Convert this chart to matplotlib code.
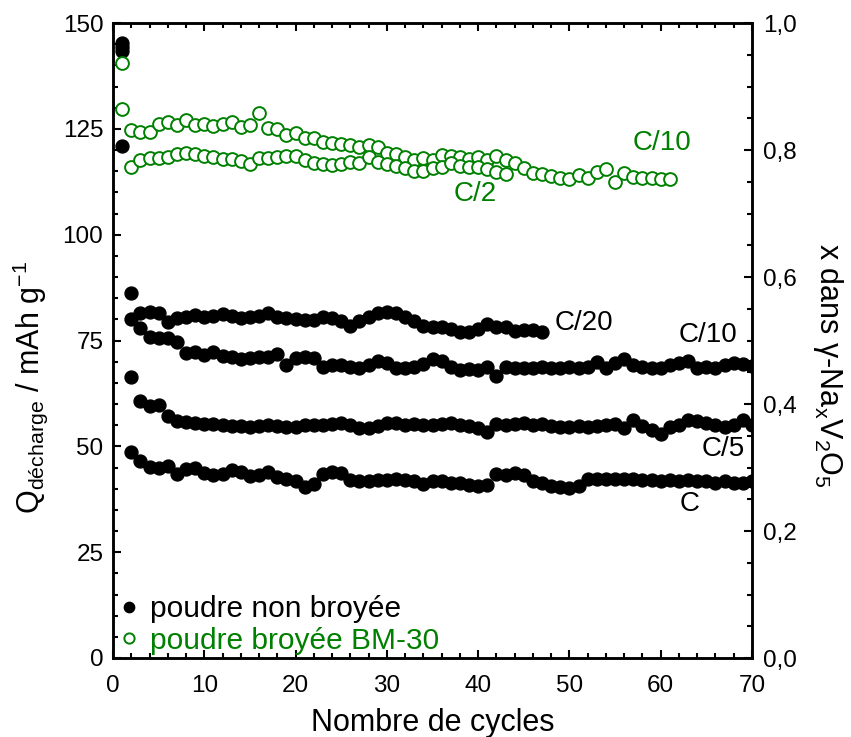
import matplotlib
matplotlib.use('Agg')
import matplotlib.pyplot as plt
from matplotlib.ticker import MultipleLocator, FuncFormatter

plt.rcParams['font.family'] = ['Liberation Sans', 'DejaVu Sans']
plt.rcParams['mathtext.fontset'] = 'custom'
plt.rcParams['mathtext.rm'] = 'Liberation Sans'
plt.rcParams['mathtext.it'] = 'Liberation Sans:italic'
plt.rcParams['mathtext.bf'] = 'Liberation Sans:bold'

GREEN = '#008000'

# ---- data: poudre non broyée (black, filled) ----
q_c20 = [145.3, 86.2, 81.6, 81.8, 81.4, 79.4, 80.2, 80.6, 81.0, 80.5, 80.8, 81.3, 80.8, 80.4, 80.6,
         80.8, 81.6, 80.6, 80.2, 80.0, 79.8, 79.8, 80.5, 80.2, 79.7, 78.4, 79.7, 80.5, 81.4, 81.8,
         81.4, 80.6, 79.6, 78.4, 78.3, 78.1, 77.6, 77.1, 77.1, 77.6, 78.9, 78.3, 78.1, 77.3, 77.5,
         77.5, 77.1]
q_c10 = [144.3, 80.0, 77.9, 75.9, 75.5, 75.5, 74.7, 72.0, 72.4, 71.6, 72.4, 71.3, 71.0, 70.6, 70.8,
         71.0, 71.2, 71.8, 69.2, 70.8, 71.0, 70.8, 68.8, 69.2, 69.2, 68.7, 68.4, 69.2, 70.2, 69.8,
         68.4, 68.4, 68.8, 69.4, 70.6, 70.2, 68.8, 68.0, 68.2, 68.0, 68.8, 66.5, 68.8, 68.4, 68.6,
         68.6, 68.7, 68.4, 68.4, 68.7, 68.4, 68.8, 70.0, 68.4, 69.6, 70.6, 69.2, 68.8, 68.4, 68.6,
         69.2, 69.6, 70.2, 68.4, 68.7, 68.4, 69.2, 69.8, 69.4, 69.0]
q_c5 = [121.0, 66.3, 60.8, 59.5, 59.8, 57.2, 56.1, 55.8, 55.6, 55.3, 55.3, 55.0, 54.8, 54.8, 54.6,
        54.8, 55.0, 54.8, 54.6, 54.6, 55.0, 55.0, 55.0, 55.3, 55.4, 55.0, 54.3, 54.3, 54.8, 55.4,
        55.6, 55.0, 55.2, 55.0, 55.0, 55.3, 55.4, 55.0, 54.8, 54.3, 53.5, 55.3, 55.0, 55.3, 55.4,
        55.0, 55.3, 54.8, 54.6, 54.5, 54.8, 54.6, 54.8, 55.0, 55.3, 54.3, 56.2, 54.8, 53.9, 52.9,
        54.6, 55.0, 56.2, 56.1, 55.4, 55.0, 54.6, 55.0, 56.2, 55.0]
q_c1 = [143.4, 48.6, 46.6, 45.2, 44.8, 45.4, 43.5, 44.6, 44.8, 43.8, 43.2, 43.5, 44.3, 44.0, 43.0,
        43.2, 44.0, 42.7, 42.2, 41.7, 40.5, 41.1, 43.5, 44.0, 43.8, 42.0, 41.7, 41.7, 42.0, 42.0,
        42.4, 42.0, 41.7, 41.1, 41.7, 41.7, 41.4, 41.3, 40.9, 40.6, 40.9, 43.5, 43.2, 43.6, 43.2,
        41.7, 41.3, 40.6, 40.3, 40.1, 40.6, 42.4, 42.4, 42.4, 42.4, 42.2, 42.2, 42.0, 42.0, 41.9,
        42.0, 41.9, 42.0, 41.9, 41.7, 41.4, 41.7, 41.4, 41.3, 41.7]

# ---- data: poudre broyée BM-30 (green, open) ----
q_bm_c10 = [140.6, 124.7, 124.3, 124.3, 126.1, 126.5, 125.8, 127.1, 126.0, 126.1, 125.7, 126.2, 126.5,
            125.4, 126.0, 128.8, 125.1, 124.9, 123.5, 123.9, 122.9, 122.8, 122.0, 121.7, 121.4, 121.1,
            120.8, 121.2, 120.6, 119.2, 119.0, 118.4, 117.6, 118.2, 117.6, 118.8, 118.6, 118.3, 117.8,
            118.3, 117.6, 118.6, 117.6, 116.9, 115.7, 114.6, 114.3, 113.9, 113.5, 113.1, 114.1, 113.3,
            114.9, 115.4, 112.5, 114.5, 113.7, 113.5, 113.3, 113.1, 113.1]
q_bm_c2 = [129.6, 116.1, 117.6, 118.2, 118.2, 118.4, 119.1, 119.2, 119.0, 118.6, 118.4, 117.8, 117.8,
           117.5, 116.7, 118.0, 118.2, 118.3, 118.6, 118.6, 117.6, 117.0, 116.7, 116.5, 116.7, 117.2,
           117.0, 118.4, 117.2, 116.7, 116.2, 115.7, 115.1, 115.1, 115.7, 115.9, 116.9, 116.2, 116.1,
           115.9, 115.4, 114.9, 114.3]

legend_labels = ['poudre non broyée', 'poudre broyée BM-30']
left_ticks = [0, 25, 50, 75, 100, 125, 150]
right_ticks = [0.0, 0.2, 0.4, 0.6, 0.8, 1.0]
x_ticks = [0, 10, 20, 30, 40, 50, 60, 70]

def cyc(q):
    return list(range(1, len(q) + 1))

fig = plt.figure(figsize=(8.51, 7.37), dpi=100)
ax = fig.add_axes([113 / 851, 1 - 658 / 737, (752 - 113) / 851, (658 - 23) / 737])

bk = dict(marker='o', ls='none', color='black', ms=9.3, mec='black', zorder=3)
h1 = None
for q in (q_c20, q_c10, q_c5, q_c1):
    h, = ax.plot(cyc(q), q, **bk)
    if h1 is None:
        h1 = h
gr = dict(marker='o', ls='none', color=GREEN, mfc='white', mec=GREEN, ms=9.2, mew=1.4, zorder=4)
h2 = None
for q in (q_bm_c10, q_bm_c2):
    h, = ax.plot(cyc(q), q, **gr)
    if h2 is None:
        h2 = h

ax.set_xlim(0, 70)
ax.set_ylim(0, 150)
ax.set_xticks(x_ticks)
ax.set_yticks(left_ticks)
ax.xaxis.set_minor_locator(MultipleLocator(2))
ax.yaxis.set_minor_locator(MultipleLocator(5))
ax.tick_params(which='both', direction='in', top=True, right=False, width=1.5, labelsize=17.5)
ax.tick_params(which='major', length=6)
ax.tick_params(which='minor', length=3.6)
ax.tick_params(axis='y', pad=7)
ax.tick_params(axis='x', pad=12)
for s in ax.spines.values():
    s.set_linewidth(1.8)

ax2 = ax.twinx()
ax2.set_ylim(0, 1)
ax2.set_yticks(right_ticks)
ax2.yaxis.set_minor_locator(MultipleLocator(0.05))
ax2.yaxis.set_major_formatter(FuncFormatter(lambda v, p: f'{v:.1f}'.replace('.', ',')))
ax2.tick_params(which='both', direction='in', width=1.5, labelsize=17.5, pad=8)
ax2.tick_params(which='major', length=6)
ax2.tick_params(which='minor', length=3.6)
for s in ax2.spines.values():
    s.set_linewidth(1.8)

ax.set_xlabel('Nombre de cycles', fontsize=22, labelpad=8)
fig.text(30 / 851, 1 - 387 / 737, r'Q$_{\mathregular{décharge}}$ / mAh g$^{\mathregular{-1}}$',
         rotation=90, fontsize=22, ha='center', va='center')
fig.text(828 / 851, 1 - 365 / 737, r'x dans γ-Na$_{\mathregular{x}}$V$_{\mathregular{2}}$O$_{\mathregular{5}}$',
         rotation=270, fontsize=22, ha='center', va='center')

lab = dict(fontsize=20, ha='center', va='center', zorder=6)
ax.text(51.6, 79.1, 'C/20', color='black', **lab)
ax.text(65.2, 76.3, 'C/10', color='black', **lab)
ax.text(66.8, 49.4, 'C/5', color='black', **lab)
ax.text(63.2, 36.4, 'C', color='black', **lab)
ax.text(60.1, 121.7, 'C/10', color=GREEN, **lab)
ax.text(39.7, 109.6, 'C/2', color=GREEN, **lab)

leg = ax.legend([h1, h2], legend_labels, loc='lower left', bbox_to_anchor=(0.004, -0.004),
                frameon=False, fontsize=21.5, handlelength=0.5, handletextpad=0.45,
                borderaxespad=0.05, borderpad=0.15, labelspacing=0.12, markerscale=0.8)
for t, c in zip(leg.get_texts(), ['black', GREEN]):
    t.set_color(c)

fig.savefig('out.png', dpi=100)
